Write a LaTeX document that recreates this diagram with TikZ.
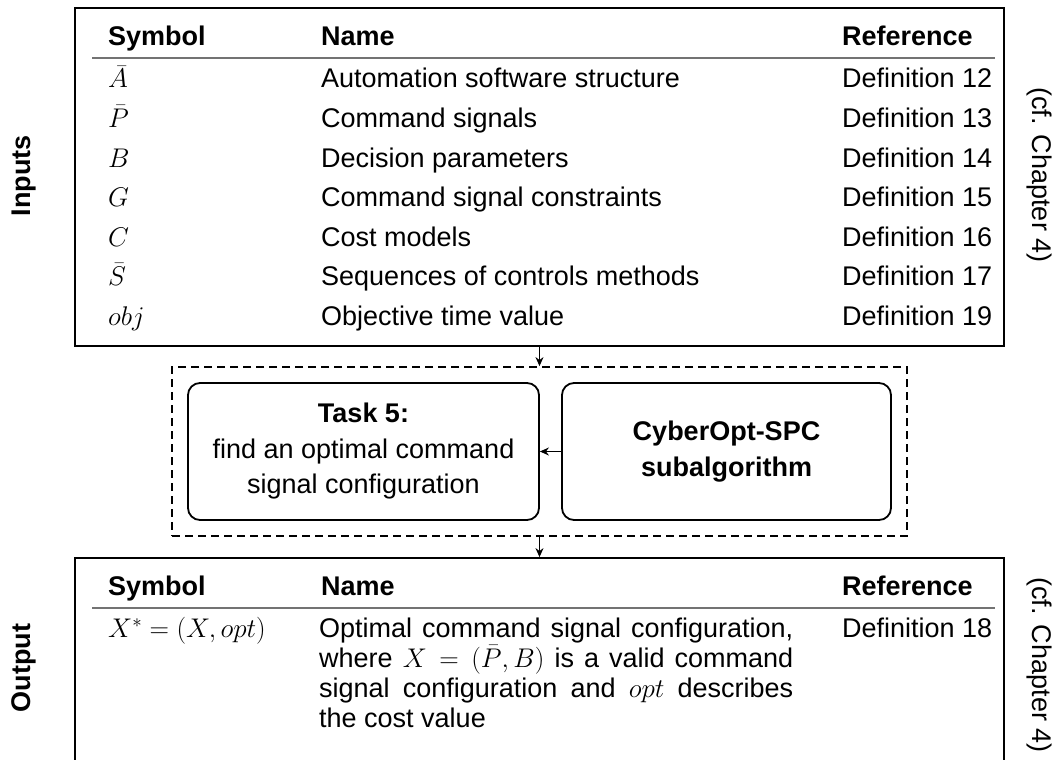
\RequirePackage{fix-cm}
\documentclass[tikz,border=0pt]{standalone}
\usepackage{fontspec}
\setmainfont{Liberation Sans}
\usetikzlibrary{arrows.meta}

\newcommand{\bodysize}{\fontsize{27}{32}\selectfont}
% one justified line of the output description
\newcommand{\fullline}[1]{\makebox[474pt][s]{#1}}

\begin{document}
\begin{tikzpicture}[x=1pt,y=-1pt,
  txt/.style={inner sep=0pt, anchor=base west, font=\bodysize},
  hdr/.style={inner sep=0pt, anchor=base west, font=\bodysize\bfseries},
  sidelbl/.style={inner sep=0pt, anchor=base, font=\bodysize\bfseries, rotate=90},
  chaplbl/.style={inner sep=0pt, anchor=base, font=\bodysize, rotate=-90},
  frame/.style={draw, line width=1.8pt, inner sep=0pt},
  groupbox/.style={draw, line width=1.8pt, dash pattern=on 8pt off 5pt, inner sep=0pt},
  taskbox/.style={draw, line width=1.8pt, rounded corners=12pt, align=center,
                  inner sep=0pt, font=\fontsize{27}{35.5}\selectfont},
  arr/.style={-{Stealth[length=9pt,width=8pt]}, line width=1.2pt},
  tablerule/.style={draw=black!55, line width=1.4pt}]

\clip (0,0) rectangle (1063,760);

% ---------- frames ----------
\node[frame, minimum width=929pt, minimum height=338pt] (inbox) at (539.5,177) {};
\node[frame, minimum width=929pt, minimum height=250pt] (outbox) at (539.5,683) {};
\node[groupbox, minimum width=735pt, minimum height=169pt] (grp) at (539.5,451.5) {};
\node[taskbox, minimum width=351pt, minimum height=137pt] (task) at (363.5,451.5)
  {\textbf{Task 5:}\\find an optimal command\\signal configuration};
\node[taskbox, minimum width=329pt, minimum height=137pt] (algo) at (726.5,451.5)
  {\textbf{CyberOpt-SPC}\\\textbf{subalgorithm}};

% ---------- connectors ----------
\draw[arr] (inbox.south) -- (grp.north);
\draw[arr] (grp.south) -- (outbox.north);
\draw[arr] (algo.west) -- (task.east);

% ---------- side labels ----------
\node[sidelbl] (inlbl) at (30,176) {Inputs};
\node[sidelbl] (outlbl) at (30,668) {Output};
\node[chaplbl] (inchap) at (1032,175) {(cf. Chapter 4)};
\node[chaplbl] (outchap) at (1032,665) {(cf. Chapter 4)};

% ---------- inputs table ----------
\node[hdr] (ihs) at (108,46) {Symbol};
\node[hdr] (ihn) at (321,46) {Name};
\node[hdr] (ihr) at (842,46) {Reference};
\path[tablerule] (92,58) -- (995,58);

\node[txt] (s1) at (108,88)    {$\bar{A}$};
\node[txt] (n1) at (321,88)    {Automation software structure};
\node[txt] (r1) at (842,88)    {Definition 12};
\node[txt] (s2) at (108,127.5) {$\bar{P}$};
\node[txt] (n2) at (321,127.5) {Command signals};
\node[txt] (r2) at (842,127.5) {Definition 13};
\node[txt] (s3) at (108,167)   {$B$};
\node[txt] (n3) at (321,167)   {Decision parameters};
\node[txt] (r3) at (842,167)   {Definition 14};
\node[txt] (s4) at (108,206.5) {$G$};
\node[txt] (n4) at (321,206.5) {Command signal constraints};
\node[txt] (r4) at (842,206.5) {Definition 15};
\node[txt] (s5) at (108,246)   {$C$};
\node[txt] (n5) at (321,246)   {Cost models};
\node[txt] (r5) at (842,246)   {Definition 16};
\node[txt] (s6) at (108,285.5) {$\bar{S}$};
\node[txt] (n6) at (321,285.5) {Sequences of controls methods};
\node[txt] (r6) at (842,285.5) {Definition 17};
\node[txt] (s7) at (108,325)   {$obj$};
\node[txt] (n7) at (321,325)   {Objective time value};
\node[txt] (r7) at (842,325)   {Definition 19};

% ---------- output table ----------
\node[hdr] (ohs) at (108,595) {Symbol};
\node[hdr] (ohn) at (321,595) {Name};
\node[hdr] (ohr) at (842,595) {Reference};
\path[tablerule] (92,608) -- (995,608);

\node[txt] (os) at (108,637) {$X^{*} = (X, opt)$};
\node[txt] (on1) at (319,637) {\fullline{Optimal command signal configuration,}};
\node[txt] (on2) at (319,667) {\fullline{where $X = (\bar{P}, B)$ is a valid command}};
\node[txt] (on3) at (319,697) {\fullline{signal configuration and $opt$ describes}};
\node[txt] (on4) at (319,727) {the cost value};
\node[txt] (or) at (842,637) {Definition 18};

\end{tikzpicture}
\end{document}
